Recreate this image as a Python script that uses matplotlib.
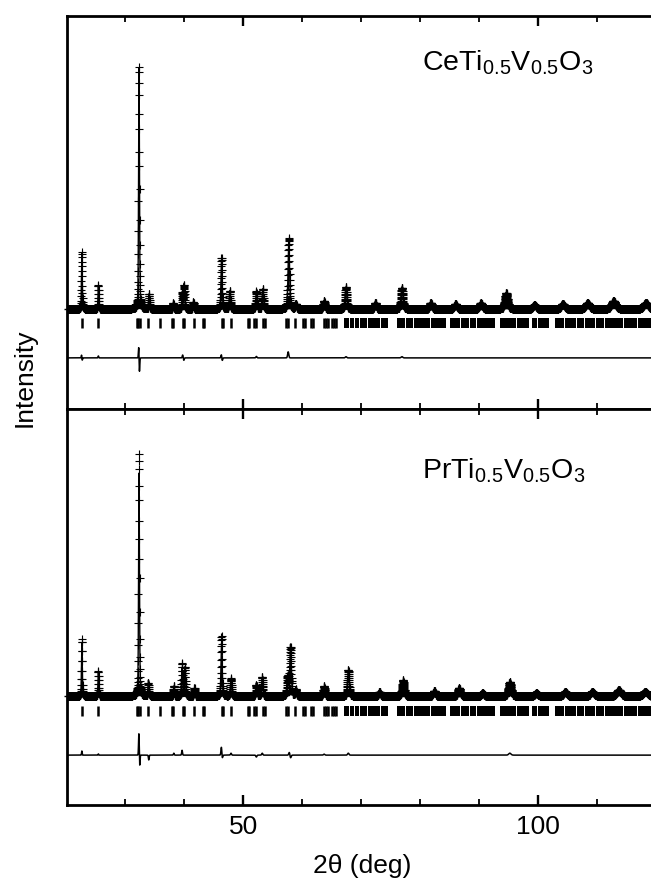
"""Rietveld plots for CeTi0.5V0.5O3 and PrTi0.5V0.5O3 (obs '+', calc line, ticks, difference)."""

import matplotlib

matplotlib.use("Agg")
import matplotlib.pyplot as plt
from matplotlib.ticker import FixedLocator, NullFormatter
import numpy as np

plt.rcParams["font.family"] = ["Liberation Sans", "DejaVu Sans"]
plt.rcParams["mathtext.fontset"] = "custom"
plt.rcParams["mathtext.rm"] = "Liberation Sans"

# peak positions (2theta, deg) and heights (% of the strongest reflection)
CE_PEAK_POS = [22.6, 25.4, 32.3, 34.0, 38.1, 39.65, 39.95, 41.5, 46.3, 47.7,
               52.2, 53.3, 57.7, 58.9, 63.7, 67.4, 72.4, 76.9, 81.8, 86.0,
               90.3, 94.6, 99.4, 104.2, 108.4, 112.8, 118.3]
CE_PEAK_HEIGHT = [23.2, 9.1, 100.0, 6.2, 2.5, 5.5, 10.5, 2.9, 20.3, 7.5,
                  6.6, 8.3, 27.8, 2.1, 3.3, 8.7, 2.5, 8.3, 2.5, 2.1,
                  2.5, 6.6, 1.7, 2.1, 2.5, 3.3, 2.5]

PR_PEAK_POS = [22.6, 25.4, 32.3, 33.9, 38.2, 39.6, 40.1, 41.7, 46.3, 47.9,
               52.2, 53.2, 57.5, 58.0, 58.9, 63.7, 67.8, 73.1, 77.1, 82.4,
               86.6, 90.6, 95.2, 99.7, 104.6, 109.2, 113.7, 118.2]
PR_PEAK_HEIGHT = [22.0, 10.0, 92.5, 6.6, 3.3, 11.6, 12.0, 3.3, 22.0, 6.6,
                  5.4, 7.1, 7.9, 21.2, 2.5, 3.7, 10.0, 1.7, 6.6, 2.1,
                  3.3, 1.2, 5.0, 1.2, 1.7, 1.7, 2.5, 1.7]

# obs - calc misfit features (position, amplitude in the same units)
CE_MISFIT_POS = [22.55, 22.66, 25.4, 32.26, 32.36, 39.7, 39.9, 46.28, 46.4,
                 52.2, 57.6, 67.4, 76.9]
CE_MISFIT_AMP = [1.2, -1.0, 0.8, 5.4, -6.6, 1.2, -1.0, 1.6, -1.4,
                 0.6, 2.5, 0.5, 0.5]

PR_MISFIT_POS = [22.6, 25.4, 32.28, 32.4, 33.95, 38.2, 39.6, 46.28, 46.4,
                 47.9, 52.2, 53.2, 57.8, 58.0, 63.7, 67.8, 95.2]
PR_MISFIT_AMP = [1.7, 0.5, 9.5, -5.0, -2.0, 0.8, 2.0, 3.7, -1.7,
                 0.8, -0.8, 0.8, 1.2, -1.2, 0.4, 0.8, 0.8]

# Bragg reflection markers: isolated ticks and dense runs of ticks
REFLECTION_TICKS = [22.6, 25.3, 32.0, 32.2, 32.4, 33.9, 35.9, 37.9, 38.1,
                    39.7, 40.0, 41.6, 43.1, 43.4, 46.3, 46.6, 47.9, 50.7,
                    51.0, 51.8, 52.1, 53.3, 53.6, 57.2, 57.5, 58.8, 60.1,
                    60.4, 61.5, 61.8, 63.7, 64.0, 64.3, 65.1, 65.4, 65.7]
REFLECTION_BANDS = [(67.0, 67.95), (68.05, 68.85), (68.95, 69.65),
                    (69.75, 71.05), (71.15, 72.45), (72.55, 73.25),
                    (73.35, 74.6), (76.1, 77.45), (77.55, 78.85),
                    (78.95, 80.05), (80.15, 81.65), (81.75, 82.45),
                    (82.55, 84.3), (85.1, 86.75), (86.85, 88.35),
                    (88.45, 89.45), (89.55, 91.25), (91.35, 92.7),
                    (93.6, 94.85), (94.95, 96.25), (96.35, 97.25),
                    (97.35, 98.4), (99.0, 99.85), (99.95, 101.8),
                    (102.9, 104.45), (104.55, 106.45), (106.55, 107.85),
                    (107.95, 109.65), (109.75, 111.25), (111.35, 112.65),
                    (112.75, 114.45), (114.55, 116.85), (116.95, 119.2)]

TTH = np.arange(20.0, 119.2, 0.02)


def _fwhm(pos):
    t = np.tan(np.radians(np.asarray(pos) / 2.0))
    return np.sqrt(0.30 * t**2 - 0.05 * t + 0.02)


def _pattern(positions, heights):
    y = np.zeros_like(TTH)
    for pos, h in zip(positions, heights):
        w = _fwhm(pos)
        dx = (TTH - pos) / (w / 2.0)
        gauss = np.exp(-np.log(2.0) * dx**2)
        lorentz = 1.0 / (1.0 + dx**2)
        y += h * (0.6 * gauss + 0.4 * lorentz)
    return y


def _misfit(positions, amps):
    y = np.zeros_like(TTH)
    for pos, a in zip(positions, amps):
        w = 0.8 * _fwhm(pos)
        y += a * np.exp(-4.0 * np.log(2.0) * ((TTH - pos) / w) ** 2)
    return y


def _panel(ax, calc, diff, tick_y, diff_y, ylim, label, label_y):
    obs = calc + diff
    ax.plot(TTH, obs, linestyle="none", marker="+", markersize=5.5,
            markeredgewidth=0.8, color="black")
    ax.plot(TTH, calc, color="black", linewidth=1.0)
    ax.vlines(REFLECTION_TICKS, tick_y - 1.9, tick_y + 1.9,
              color="black", linewidth=1.8)
    ax.broken_barh([(a, b - a) for a, b in REFLECTION_BANDS],
                   (tick_y - 1.9, 3.8), facecolors="black")
    ax.plot(TTH, diff + diff_y, color="black", linewidth=1.1)

    ax.set_xlim(20.0, 119.15)
    ax.set_ylim(*ylim)
    ax.xaxis.set_major_locator(FixedLocator([50, 100]))
    ax.xaxis.set_minor_locator(FixedLocator([30, 40, 60, 70, 80, 90, 110]))
    ax.yaxis.set_major_locator(FixedLocator([0]))
    ax.yaxis.set_major_formatter(NullFormatter())
    ax.tick_params(axis="x", which="both", direction="in", top=True,
                   bottom=True, labelsize=19, pad=7)
    ax.tick_params(axis="x", which="major", length=7, width=1.7)
    ax.tick_params(axis="x", which="minor", length=4, width=1.3)
    ax.tick_params(axis="y", direction="out", length=2.5, width=1.0)
    for side in ("left", "top", "bottom"):
        ax.spines[side].set_linewidth(2.0)
    ax.spines["right"].set_visible(False)
    ax.text(422 / 651, label_y, label, transform=ax.figure.transFigure,
            fontsize=20.5, va="baseline", ha="left")


def main():
    fig = plt.figure(figsize=(6.51, 8.86), dpi=100)
    ax_top = fig.add_axes([0.1022, 0.5384, 0.8978, 0.4436])
    ax_bot = fig.add_axes([0.1022, 0.0914, 0.8978, 0.4470])

    ce_calc = _pattern(CE_PEAK_POS, CE_PEAK_HEIGHT)
    pr_calc = _pattern(PR_PEAK_POS, PR_PEAK_HEIGHT)
    ce_diff = _misfit(CE_MISFIT_POS, CE_MISFIT_AMP)
    pr_diff = _misfit(PR_MISFIT_POS, PR_MISFIT_AMP)

    _panel(ax_top, ce_calc, ce_diff, -5.8, -20.3, (-41.5, 121.6),
           r"CeTi$_{\mathregular{0.5}}$V$_{\mathregular{0.5}}$O$_{\mathregular{3}}$",
           1 - 70 / 886)
    _panel(ax_bot, pr_calc, pr_diff, -6.2, -24.5, (-45.2, 119.1),
           r"PrTi$_{\mathregular{0.5}}$V$_{\mathregular{0.5}}$O$_{\mathregular{3}}$",
           1 - 478 / 886)
    ax_top.xaxis.set_major_formatter(NullFormatter())

    fig.text(25 / 651, 1 - 378 / 886, "Intensity", rotation=90,
             ha="center", va="center", fontsize=19)
    fig.text(362 / 651, 1 - 866 / 886, "2θ (deg)", ha="center",
             va="center", fontsize=19)
    fig.savefig("out.png", dpi=100)
    plt.close(fig)


if __name__ == "__main__":
    main()
